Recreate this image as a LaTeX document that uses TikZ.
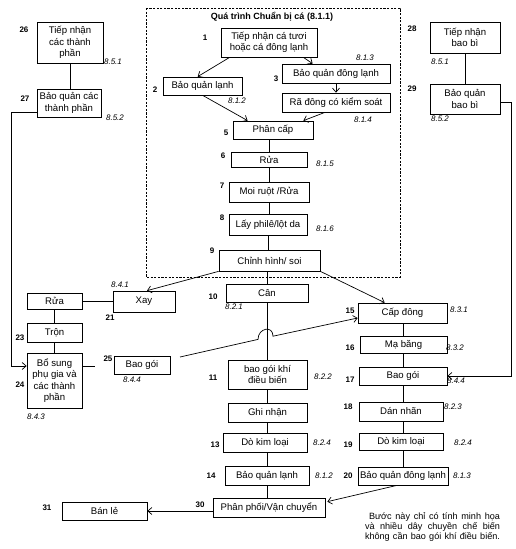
\documentclass[tikz,border=0pt]{standalone}
\usepackage{fontspec}
\setmainfont{Liberation Sans}
\usetikzlibrary{arrows.meta}
\usetikzlibrary{calc}

\tikzset{
	stepbox/.style={draw, line width=0.7pt, rectangle, inner sep=0.5pt, align=center,
		font=\fontsize{9.6}{11.5}\selectfont},
	num/.style={inner sep=0pt, font=\fontsize{8}{9}\selectfont\bfseries},
	sref/.style={inner sep=0pt, font=\fontsize{8}{9}\selectfont\itshape},
	link/.style={line width=0.7pt},
	flow/.style={line width=0.7pt, -{Straight Barb[length=4pt,width=7pt]}},
}

\begin{document}
\begin{tikzpicture}[x=1pt, y=-1pt]
	
	\useasboundingbox (0,0) rectangle (516,549);
	
	% the preparation stage, framed by a dashed box
	\draw[line width=1pt, dash pattern=on 2.2pt off 1.4pt] (146,8) rectangle (400,277);
	\node[font=\fontsize{9}{10}\selectfont\bfseries] (T0) at (272,17) {Quá trình Chuẩn bị cá (8.1.1)};
	
	%%%%%%%%%%%%%%%%%%%%%%%%%%%%%%%%%%%%%%%%%%%%%%%%%%%%%%%%%%%%%%
	% Steps: (x,y) is the centre of each box, in pixels of the page
	
	\node[stepbox, minimum width=96, minimum height=29] (S1) at (269,42.5) {Tiếp nhận cá tươi\\hoặc cá đông lạnh};
	\node[stepbox, minimum width=79, minimum height=18] (S2) at (202.5,86) {Bảo quản lạnh};
	\node[stepbox, minimum width=108, minimum height=19] (S3) at (336,73.5) {Bảo quản đông lạnh};
	\node[stepbox, minimum width=108, minimum height=19] (S4) at (336,102.5) {Rã đông có kiểm soát};
	\node[stepbox, minimum width=80, minimum height=18] (S5) at (273,130) {Phân cấp};
	\node[stepbox, minimum width=76, minimum height=15] (S6) at (269,159.5) {Rửa};
	\node[stepbox, minimum width=80, minimum height=20] (S7) at (269,192) {Moi ruột /Rửa};
	\node[stepbox, minimum width=78, minimum height=21] (S8) at (268,224.5) {Lấy philê/lột da};
	\node[stepbox, minimum width=101, minimum height=21] (S9) at (269.5,260.5) {Chỉnh hình/ soi};
	
	% middle column
	\node[stepbox, minimum width=82, minimum height=18] (S10) at (267,293) {Cân};
	\node[stepbox, minimum width=79, minimum height=29] (S11) at (267.5,374.5) {bao gói khí\\điều biến};
	\node[stepbox, minimum width=79, minimum height=19] (S12) at (267.5,412.5) {Ghi nhận};
	\node[stepbox, minimum width=84, minimum height=19] (S13) at (265,442.5) {Dò kim loại};
	\node[stepbox, minimum width=84, minimum height=19] (S14) at (267,475.5) {Bảo quản lạnh};
	\node[stepbox, minimum width=112, minimum height=19] (S30) at (269,507.5) {Phân phối/Vận chuyển};
	\node[stepbox, minimum width=85, minimum height=18] (S31) at (104.5,511) {Bán lẻ};
	
	% right column
	\node[stepbox, minimum width=89, minimum height=20] (S15) at (402.5,313) {Cấp đông};
	\node[stepbox, minimum width=87, minimum height=17] (S16) at (403.5,344.5) {Mạ băng};
	\node[stepbox, minimum width=88, minimum height=18] (S17) at (403,376) {Bao gói};
	\node[stepbox, minimum width=84, minimum height=19] (S18) at (401,411.5) {Dán nhãn};
	\node[stepbox, minimum width=84, minimum height=17] (S19) at (401,441.5) {Dò kim loại};
	\node[stepbox, minimum width=90, minimum height=18] (S20) at (403,476) {Bảo quản đông lạnh};
	
	% left column
	\node[stepbox, minimum width=62, minimum height=21] (S21) at (144,301.5) {Xay};
	\node[stepbox, minimum width=55, minimum height=16] (S22) at (54.5,301) {Rửa};
	\node[stepbox, minimum width=55, minimum height=19] (S23) at (54.5,332.5) {Trộn};
	\node[stepbox, minimum width=55, minimum height=55] (S24) at (54.5,380.5) {Bổ sung\\phụ gia và\\các thành\\phần};
	\node[stepbox, minimum width=56, minimum height=18] (S25) at (142,365) {Bao gói};
	
	% ingredients and packaging
	\node[stepbox, minimum width=66, minimum height=41] (S26) at (70,42.5) {Tiếp nhận\\các thành\\phần};
	\node[stepbox, minimum width=64, minimum height=28] (S27) at (69,103) {Bảo quản các\\thành phần};
	\node[stepbox, minimum width=70, minimum height=31] (S28) at (465,37.5) {Tiếp nhận\\bao bì};
	\node[stepbox, minimum width=70, minimum height=30] (S29) at (465,99) {Bảo quản\\bao bì};
	
	%%%%%%%%%%%%%%%%%%%%%%%%%%%%%%%%%%%%%%%%%%%%%%%%%%%%%%%%%%%%%%
	% step numbers
	
	\node[num] (L1) at (205,38) {1};
	\node[num] (L2) at (155,90) {2};
	\node[num] (L3) at (276,79) {3};
	\node[num] (L5) at (226,133) {5};
	\node[num] (L6) at (223,156) {6};
	\node[num] (L7) at (222,186) {7};
	\node[num] (L8) at (222,218) {8};
	\node[num] (L9) at (212,251) {9};
	\node[num] (L10) at (213,297) {10};
	\node[num] (L11) at (213,378) {11};
	\node[num] (L13) at (215,445) {13};
	\node[num] (L14) at (211,476) {14};
	\node[num] (L15) at (350,311) {15};
	\node[num] (L16) at (350,348) {16};
	\node[num] (L17) at (350,380) {17};
	\node[num] (L18) at (348,407) {18};
	\node[num] (L19) at (348,445) {19};
	\node[num] (L20) at (348,476) {20};
	\node[num] (L21) at (110,318) {21};
	\node[num] (L23) at (20,338) {23};
	\node[num] (L24) at (20,385) {24};
	\node[num] (L25) at (108,359) {25};
	\node[num] (L26) at (24,30) {26};
	\node[num] (L27) at (25,99) {27};
	\node[num] (L28) at (412,29) {28};
	\node[num] (L29) at (412,89) {29};
	\node[num] (L30) at (200,505) {30};
	\node[num] (L31) at (47,508) {31};
	
	% clause references
	\node[sref] (R2) at (237,101) {8.1.2};
	\node[sref] (R3) at (365,58) {8.1.3};
	\node[sref] (R4) at (363,120) {8.1.4};
	\node[sref] (R6) at (325,164) {8.1.5};
	\node[sref] (R8) at (325,229) {8.1.6};
	\node[sref] (R10) at (234,307) {8.2.1};
	\node[sref] (R11) at (323,377) {8.2.2};
	\node[sref] (R13) at (322,443) {8.2.4};
	\node[sref] (R14) at (324,476) {8.1.2};
	\node[sref] (R15) at (459,310) {8.3.1};
	\node[sref] (R16) at (455,348) {8.3.2};
	\node[sref] (R17) at (456,381) {8.4.4};
	\node[sref] (R18) at (453,407) {8.2.3};
	\node[sref] (R19) at (463,443) {8.2.4};
	\node[sref] (R20) at (462,476) {8.1.3};
	\node[sref] (R21) at (120,285) {8.4.1};
	\node[sref] (R24) at (36,417) {8.4.3};
	\node[sref] (R25) at (132,380) {8.4.4};
	\node[sref] (R26) at (113,62) {8.5.1};
	\node[sref] (R27) at (115,118) {8.5.2};
	\node[sref] (R28) at (440,62) {8.5.1};
	\node[sref] (R29) at (440,119) {8.5.2};
	
	% the note under the right column
	\node[inner sep=0pt, align=right, font=\fontsize{9.1}{10.2}\selectfont] (NOTE) at (432.5,527)
		{\makebox[131pt][s]{Bước này chỉ có tính minh họa}\\
		 \makebox[135pt][s]{và nhiều dây chuyền chế biến}\\
		 \makebox[135pt][s]{không cần bao gói khí điều biến.}};
	
	%%%%%%%%%%%%%%%%%%%%%%%%%%%%%%%%%%%%%%%%%%%%%%%%%%%%%%%%%%%%%%
	% free ends and bends of the connectors
	
	\coordinate (K1) at (11,112);
	\coordinate (K2) at (11,366);
	\coordinate (K3) at (511,102);
	\coordinate (K4) at (511,376);
	\coordinate (K5) at (95,366);
	\coordinate (K6) at (180,357);
	\coordinate (H1) at (258,339.4);
	\coordinate (H2) at (273,336.2);
	
	% inside the dashed box
	\draw[flow] ([xshift=9pt]S1.south west) -- ([xshift=35pt]S2.north west);
	\draw[flow] ([xshift=-14pt]S1.south east) -- ([xshift=31pt]S3.north west);
	\draw[flow] (S3.south) -- (S4.north);
	\draw[flow] ([xshift=40pt]S2.south west) -- ([xshift=15pt]S5.north west);
	\draw[flow] ([xshift=-11pt]S4.south) -- ([xshift=-10pt]S5.north east);
	\draw[link] (S6.north |- S5.south) -- (S6.north);
	\draw[link] (S6.south) -- (S6.south |- S7.north);
	\draw[link] (S8.north -| S7.south) -- (S7.south);
	\draw[link] (S8.south) -- (S8.south |- S9.north);
	
	% out of Chinh hinh
	\draw[flow] (S9.south west) -- ([xshift=3pt]S21.north);
	\draw[flow] (S9.south east) -- ([xshift=27pt]S15.north west);
	\draw[link] (S10.north |- S9.south) -- (S10.north);
	
	% middle column
	\draw[link] (S10.south) -- (S10.south |- S11.north);
	\draw[link] (S11.south) -- (S11.south |- S12.north);
	\draw[link] (S12.south) -- (S12.south |- S13.north);
	\draw[link] (S13.south -| S12.south) -- (S12.south |- S14.north);
	\draw[link] (S14.south) -- (S14.south |- S30.north);
	\draw[flow] (S30.west |- S31.east) -- (S31.east);
	
	% right column
	\draw[link] (S15.south -| S16.north) -- (S16.north);
	\draw[link] (S16.south -| S17.north) -- (S17.north);
	\draw[link] (S17.south) -- (S17.south |- S18.north);
	\draw[link] (S18.south -| S17.south) -- (S17.south |- S19.north);
	\draw[link] (S19.south -| S17.south) -- (S17.south |- S20.north);
	\draw[flow] ([xshift=-6pt]S20.south) -- ([xshift=2pt,yshift=-4pt]S30.north east);
	
	% left column
	\draw[link] (S22.east) -- (S22.east -| S21.west);
	\draw[link] (S22.south) -- (S23.north);
	\draw[link] (S23.south) -- (S24.north);
	\draw[link] (S24.east |- K5) -- (K5);
	% the packed mince goes on to freezing, hopping over the middle line
	\draw[flow] (K6) -- (H1) .. controls (258,328) and (273,325) .. (H2) -- ([yshift=-5pt]S15.west);
	
	% ingredients and packaging
	\draw[link] (S26.south) -- (S26.south |- S27.north);
	\draw[flow] (S27.west |- K1) -- (K1) -- (K2) -- (S24.west |- K2);
	\draw[link] (S28.south) -- (S29.north);
	\draw[flow] (S29.east |- K3) -- (K3) -- (K4) -- (S17.east |- K4);
	
\end{tikzpicture}
\end{document}
